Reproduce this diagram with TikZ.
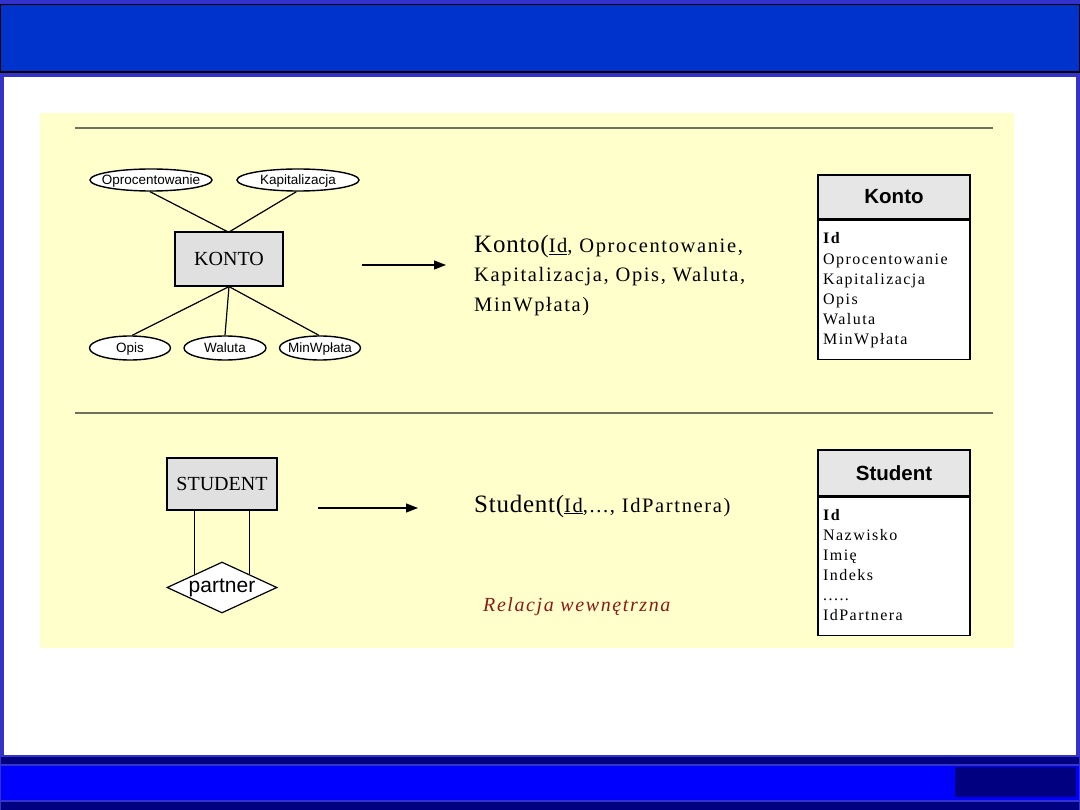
\documentclass[tikz,border=0pt]{standalone}
\usepackage{fontspec}
\setmainfont{Liberation Serif}
\newfontfamily\sansf{Liberation Sans}
\newfontfamily\spserif[LetterSpace=8]{Liberation Serif}
\newfontfamily\tblserif[LetterSpace=9]{Liberation Serif}
\usetikzlibrary{shapes.geometric,arrows.meta}
\definecolor{framec}{HTML}{3333CC}
\definecolor{hdrblue}{HTML}{0033CC}
\definecolor{navyc}{HTML}{000080}
\definecolor{bblue}{HTML}{0000FF}
\definecolor{panelc}{HTML}{FFFFCC}
\definecolor{entgray}{HTML}{E0E0E0}
\definecolor{thgray}{HTML}{E6E6E6}
\definecolor{sepc}{HTML}{707060}
\definecolor{relred}{HTML}{8B1A1A}
\tikzset{
  entity/.style={draw=black, line width=1.2pt, fill=entgray, minimum width=108pt, minimum height=54pt, inner sep=0pt, font=\fontsize{20}{24}\selectfont},
  attr/.style={ellipse, draw=black, line width=1.4pt, fill=white, minimum height=22pt, inner xsep=-20pt, inner ysep=0pt, text height=9.7pt, text depth=0pt, font=\sansf\fontsize{13.5}{16}\selectfont},
  rel/.style={diamond, draw=black, line width=1.2pt, fill=white, aspect=2.2, minimum width=110pt, minimum height=51pt, inner sep=0pt, font=\sansf\fontsize{21}{24}\selectfont},
  conn/.style={draw=black, line width=1.2pt},
  arr/.style={draw=black, line width=1.2pt, -{Triangle[length=12pt,width=9pt]}},
  thead/.style={draw=black, line width=1.3pt, fill=thgray, minimum width=152pt, inner sep=0pt, font=\sansf\bfseries\fontsize{20.5}{24}\selectfont},
  tbody/.style={draw=black, line width=1.3pt, fill=white, minimum width=152pt, inner sep=0pt},
  trow/.style={anchor=base west, inner sep=0pt, font=\tblserif\fontsize{16}{18}\selectfont},
  sep/.style={draw=sepc, line width=1.2pt},
  rtext/.style={anchor=base west, inner sep=0pt, font=\spserif\fontsize{20.5}{24}\selectfont},
}
\begin{document}
\begin{tikzpicture}[x=1pt,y=-1pt]
\useasboundingbox (0,0) rectangle (1080,810);
% frame and bands
\fill[framec] (0,0) rectangle (1080,810);
\fill[black] (0,4) rectangle (1080,73);
\fill[hdrblue] (1,5) rectangle (1079,71);
\fill[white] (4,77) rectangle (1076,755);
\fill[navyc] (1,757) rectangle (1079,764);
\fill[bblue] (1,766) rectangle (1079,800);
\fill[navyc] (955,767) rectangle (1076,797);
\fill[navyc] (1,802) rectangle (1079,810);
% panel
\fill[panelc] (40,113) rectangle (1014,648);
\coordinate (s1a) at (75,128);
\coordinate (s1b) at (993,128);
\coordinate (s2a) at (75,413);
\coordinate (s2b) at (993,413);
\draw[sep] (s1a) -- (s1b);
\draw[sep] (s2a) -- (s2b);

% ---------- KONTO ER ----------
\node[entity] (konto) at (229,259) {KONTO};
\node[attr, minimum width=122pt] (opr) at (151,180) {Oprocentowanie};
\node[attr, minimum width=122pt] (kap) at (298,180) {Kapitalizacja};
\node[attr, minimum width=81pt, minimum height=24pt] (opis) at (130,348) {Opis};
\node[attr, minimum width=82pt, minimum height=24pt] (wal) at (225,348) {Waluta};
\node[attr, minimum width=81pt, minimum height=24pt] (minw) at (320,348) {MinWpłata};
\draw[conn] (opr.265) -- ([xshift=-2pt]konto.north);
\draw[conn] (kap.262) -- ([xshift=1pt]konto.north);
\draw[conn] (konto.south) -- (opis.80);
\draw[conn] (konto.south) -- (wal.north);
\draw[conn] (konto.south) -- (minw.95);

\coordinate (ar1a) at (362,265);
\coordinate (ar1b) at (446,265);
\draw[arr] (ar1a) -- (ar1b);

\node[rtext] (k1) at (474,253) {{\fontsize{25}{28}\selectfont\addfontfeature{LetterSpace=3}Konto(}\underline{Id}, Oprocentowanie,};
\node[rtext] (k2) at (474,282) {Kapitalizacja, Opis, Waluta,};
\node[rtext] (k3) at (474,312) {MinWpłata)};

% Konto table
\node[thead, minimum height=44pt] (kth) at (894,197) {Konto};
\node[tbody, minimum height=139pt, anchor=north] (ktb) at (kth.south) {};
\node[trow] (kr0) at (823,244) {\textbf{Id}};
\node[trow] (kr1) at (823,264.2) {Oprocentowanie};
\node[trow] (kr2) at (823,284.4) {Kapitalizacja};
\node[trow] (kr3) at (823,304.6) {Opis};
\node[trow] (kr4) at (823,324.8) {Waluta};
\node[trow] (kr5) at (823,345) {MinWpłata};

% ---------- STUDENT ER ----------
\node[entity, minimum width=110pt, minimum height=52pt] (stud) at (222,484) {STUDENT};
\node[rel] (part) at (222,587.5) {partner};
\draw[conn] (stud.south -| part.north west) -- (part.north west);
\draw[conn] (stud.south -| part.north east) -- (part.north east);

\coordinate (ar2a) at (318,508);
\coordinate (ar2b) at (418,508);
\draw[arr] (ar2a) -- (ar2b);

\node[rtext] (s1) at (474,512) {{\fontsize{25}{28}\selectfont\addfontfeature{LetterSpace=3}Student(}\underline{Id},..., IdPartnera)};
\node[rtext, text=relred, font=\spserif\itshape\fontsize{20}{24}\selectfont] (rel) at (483,611) {Relacja wewnętrzna};

% Student table
\node[thead, minimum height=46pt] (sth) at (894,473) {Student};
\node[tbody, minimum height=138pt, anchor=north] (stb) at (sth.south) {};
\node[trow] (sr0) at (823,520) {\textbf{Id}};
\node[trow] (sr1) at (823,540) {Nazwisko};
\node[trow] (sr2) at (823,560) {Imię};
\node[trow] (sr3) at (823,580) {Indeks};
\node[trow] (sr4) at (823,600) {.....};
\node[trow] (sr5) at (823,620) {IdPartnera};
\end{tikzpicture}
\end{document}
